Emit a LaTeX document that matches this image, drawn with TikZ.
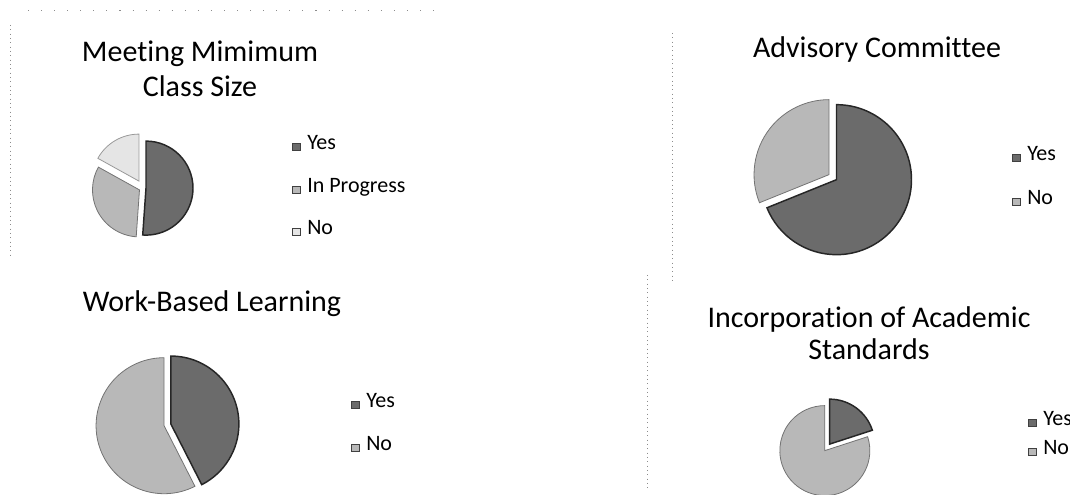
\documentclass[tikz,border=0pt]{standalone}
\usepackage{fontspec}
\setmainfont{Carlito}[Ligatures=NoCommon]
\usetikzlibrary{positioning}
\tikzstyle{yesslice} = [draw=black!85, line width=1.1pt, fill=black!58]
\tikzstyle{progslice} = [draw=black!55, line width=0.6pt, fill=black!28]
\tikzstyle{noslice} = [draw=black!40, line width=0.6pt, fill=black!10]
\tikzstyle{charttitle} = [font=\fontsize{22.5}{27}\selectfont, anchor=base, inner sep=0pt]
\tikzstyle{legtext} = [font=\fontsize{16.5}{19}\selectfont, anchor=west, inner sep=0pt, text height=0.62em, text depth=0.2em]
\tikzstyle{legmark} = [draw=black!75, line width=0.5pt, minimum size=5.5pt, inner sep=0pt]
\tikzstyle{frame} = [draw=black!45, line width=0.6pt, dash pattern=on 0.75pt off 2.5pt]

\begin{document}
\begin{tikzpicture}[x=0.75pt, y=0.75pt]
    \useasboundingbox (0,0) rectangle (1070,495);
    \clip (0,0) rectangle (1070,495);

    \draw[frame, dash pattern=on 0.8pt off 9pt] (28,485) -- (435,485);
    \draw[frame] (10,470) -- (10,237);
    \draw[frame] (672,462) -- (672,212);
    \draw[frame] (647,220) -- (647,5);

    \begin{scope}
        \node[charttitle] (title1a) at (200,433) {Meeting Mimimum};
        \node[charttitle] (title1b) at (200,398) {Class Size};

        \coordinate (c1) at (143,307);
        \draw[yesslice] ([shift={(-2:3)}]c1) -- ++(90:47) arc[start angle=90, end angle=-94, radius=47] -- cycle;
        \draw[progslice] ([shift={(-151.5:4)}]c1) -- ++(-94:47) arc[start angle=-94, end angle=-209, radius=47] -- cycle;
        \draw[noslice] ([shift={(120.5:8)}]c1) -- ++(-209:47) arc[start angle=-209, end angle=-270, radius=47] -- cycle;

        \node[legtext] (yes1) at (307,348) {Yes};
        \node[legtext] (prog1) at (307,305) {In Progress};
        \node[legtext] (no1) at (307,263) {No};
        \node[legmark, fill=black!58, left=5pt of yes1] (yes1mark) {};
        \node[legmark, fill=black!28, left=5pt of prog1] (prog1mark) {};
        \node[legmark, fill=black!10, left=5pt of no1] (no1mark) {};
    \end{scope}

    \begin{scope}
        \node[charttitle] (title2) at (877,437) {Advisory Committee};

        \coordinate (c2) at (834,317);
        \draw[yesslice] ([shift={(-34:3)}]c2) -- ++(90:75) arc[start angle=90, end angle=-158, radius=75] -- cycle;
        \draw[progslice] ([shift={(146:6)}]c2) -- ++(-158:75) arc[start angle=-158, end angle=-270, radius=75] -- cycle;

        \node[legtext] (yes2) at (1027,337) {Yes};
        \node[legtext] (no2) at (1027,293) {No};
        \node[legmark, fill=black!58, left=5pt of yes2] (yes2mark) {};
        \node[legmark, fill=black!28, left=5pt of no2] (no2mark) {};
    \end{scope}

    \begin{scope}
        \node[charttitle] (title3) at (212,183) {Work-Based Learning};

        \coordinate (c3) at (167,70);
        \draw[yesslice] ([shift={(13.5:4)}]c3) -- ++(90:68) arc[start angle=90, end angle=-63, radius=68] -- cycle;
        \draw[progslice] ([shift={(-166.5:3)}]c3) -- ++(-63:68) arc[start angle=-63, end angle=-270, radius=68] -- cycle;

        \node[legtext] (yes3) at (366,90) {Yes};
        \node[legtext] (no3) at (366,47) {No};
        \node[legmark, fill=black!58, left=5pt of yes3] (yes3mark) {};
        \node[legmark, fill=black!28, left=5pt of no3] (no3mark) {};
    \end{scope}

    \begin{scope}
        \node[charttitle] (title4a) at (869,167) {Incorporation of Academic};
        \node[charttitle] (title4b) at (869,135) {Standards};

        \coordinate (c4) at (826,46);
        \draw[yesslice] ([shift={(54:6)}]c4) -- ++(90:45) arc[start angle=90, end angle=18, radius=45] -- cycle;
        \draw[progslice] ([shift={(-126:2)}]c4) -- ++(18:45) arc[start angle=18, end angle=-270, radius=45] -- cycle;

        \node[legtext] (yes4) at (1043,72) {Yes};
        \node[legtext] (no4) at (1043,43) {No};
        \node[legmark, fill=black!58, left=5pt of yes4] (yes4mark) {};
        \node[legmark, fill=black!28, left=5pt of no4] (no4mark) {};
    \end{scope}
\end{tikzpicture}
\end{document}
